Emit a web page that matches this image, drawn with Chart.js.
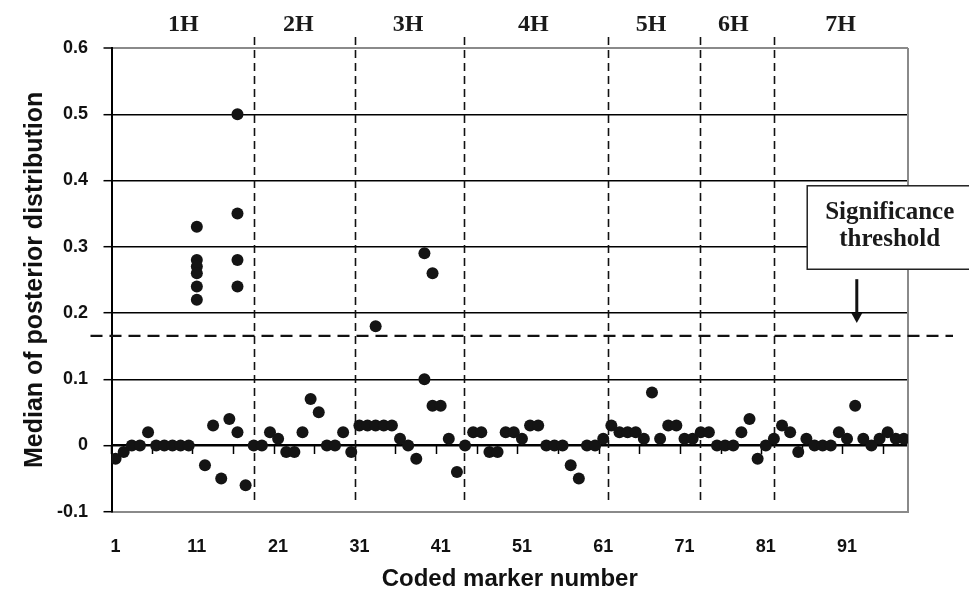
<!DOCTYPE html>
<html><head><meta charset="utf-8">
<script src="https://cdn.jsdelivr.net/npm/chart.js@4"></script>
<style>html,body{margin:0;padding:0;background:#fff}canvas{display:block}</style>
</head><body>
<canvas id="c" width="969" height="594" style="width:969px;height:594px"></canvas>
<script>
// ---- data ----
const markerNumber = [
  1,2,3,4,5,6,7,8,9,10,
  11,11,11,11,11,11,
  12,13,14,15,
  16,16,16,16,16,
  17,18,19,20,21,22,23,24,25,26,27,28,29,30,
  31,32,33,33,34,35,36,37,38,
  39,39,40,40,
  41,42,43,44,45,46,47,48,49,50,
  51,52,53,54,55,56,57,58,59,60,
  61,62,63,64,65,66,67,68,69,70,
  71,72,73,74,75,76,77,78,79,80,
  81,82,83,84,85,86,87,88,89,90,
  91,92,93,94,95,96,97,98
];
const medianValue = [
  -0.02,-0.01,0,0,0.02,0,0,0,0,0,
  0.33,0.28,0.27,0.26,0.24,0.22,
  -0.03,0.03,-0.05,0.04,
  0.5,0.35,0.28,0.24,0.02,
  -0.06,0,0,0.02,0.01,-0.01,-0.01,0.02,0.07,0.05,0,0,0.02,-0.01,
  0.03,0.03,0.03,0.18,0.03,0.03,0.01,0,-0.02,
  0.1,0.29,0.06,0.26,
  0.06,0.01,-0.04,0,0.02,0.02,-0.01,-0.01,0.02,0.02,
  0.01,0.03,0.03,0,0,0,-0.03,-0.05,0,0,
  0.01,0.03,0.02,0.02,0.02,0.01,0.08,0.01,0.03,0.03,
  0.01,0.01,0.02,0.02,0,0,0,0.02,0.04,-0.02,
  0,0.01,0.03,0.02,-0.01,0.01,0,0,0,0.02,
  0.01,0.06,0.01,0,0.01,0.02,0.01,0.01
];
const xTickLabels = [1,11,21,31,41,51,61,71,81,91];
const xTickMarks = [0.5,5.5,10.5,15.5,20.5,25.5,30.5,35.5,40.5,45.5,50.5,55.5,60.5,65.5,70.5,75.5,80.5,85.5,90.5,95.5];
const yTicks = [-0.1,0,0.1,0.2,0.3,0.4,0.5,0.6];
const chromosomeLabels = ['1H','2H','3H','4H','5H','6H','7H'];
const chromosomeLabelAt = [9.35,23.5,37.0,52.4,66.9,77.0,90.2];
const chromosomeBounds = [18.0,30.42,43.9,61.6,72.86,81.96];
const significanceThreshold = 0.1655;
const noteLines = ['Significance','threshold'];
const noteBox = {x1: 86.1, x2: 106.4, yTop: 0.392, yBottom: 0.266};
const noteArrow = {x: 92.2, yFrom: 0.251, yTo: 0.185};

const SANS = '"Liberation Sans", Arial, sans-serif';
const SERIF = '"Liberation Serif", "Times New Roman", serif';

const points = markerNumber.map((x, i) => ({x: x, y: medianValue[i]}));

const decorations = {
  id: 'decorations',
  beforeDatasetsDraw(chart) {
    const ctx = chart.ctx, xs = chart.scales.x, ys = chart.scales.y, a = chart.chartArea;
    ctx.save();
    ctx.strokeStyle = '#8a8a8a'; ctx.lineWidth = 2;
    ctx.beginPath(); ctx.moveTo(a.right, a.top); ctx.lineTo(a.right, a.bottom); ctx.stroke();
    ctx.strokeStyle = '#111'; ctx.lineWidth = 1.6; ctx.setLineDash([8, 5]);
    chromosomeBounds.forEach(b => {
      const px = Math.round(xs.getPixelForValue(b)) + 0.5;
      ctx.beginPath(); ctx.moveTo(px, a.top - 11); ctx.lineTo(px, a.bottom - 9); ctx.stroke();
    });
    const ty = ys.getPixelForValue(significanceThreshold);
    ctx.lineWidth = 2.2; ctx.setLineDash([12, 7]);
    ctx.beginPath(); ctx.moveTo(a.left - 21, ty); ctx.lineTo(a.right + 45, ty); ctx.stroke();
    ctx.restore();
  },
  afterDraw(chart) {
    const ctx = chart.ctx, xs = chart.scales.x, ys = chart.scales.y, a = chart.chartArea;
    ctx.save();
    ctx.fillStyle = '#1a1a1a';
    ctx.font = 'bold 24px ' + SERIF;
    ctx.textAlign = 'center'; ctx.textBaseline = 'alphabetic';
    chromosomeLabels.forEach((t, i) => ctx.fillText(t, xs.getPixelForValue(chromosomeLabelAt[i]), a.top - 17));
    const bx1 = xs.getPixelForValue(noteBox.x1), bx2 = xs.getPixelForValue(noteBox.x2);
    const by1 = ys.getPixelForValue(noteBox.yTop), by2 = ys.getPixelForValue(noteBox.yBottom);
    ctx.fillStyle = '#fff'; ctx.fillRect(bx1, by1, bx2 - bx1, by2 - by1);
    ctx.strokeStyle = '#222'; ctx.lineWidth = 1.5;
    ctx.strokeRect(bx1, by1, bx2 - bx1, by2 - by1);
    ctx.fillStyle = '#1a1a1a';
    ctx.font = 'bold 25px ' + SERIF;
    const cx = (bx1 + bx2) / 2;
    ctx.fillText(noteLines[0], cx, by1 + 33.5);
    ctx.fillText(noteLines[1], cx, by1 + 60.5);
    const ax = xs.getPixelForValue(noteArrow.x);
    const ay1 = ys.getPixelForValue(noteArrow.yFrom), ay2 = ys.getPixelForValue(noteArrow.yTo);
    ctx.strokeStyle = '#111'; ctx.lineWidth = 3;
    ctx.beginPath(); ctx.moveTo(ax, ay1); ctx.lineTo(ax, ay2 - 9); ctx.stroke();
    ctx.fillStyle = '#111';
    ctx.beginPath(); ctx.moveTo(ax - 5.5, ay2 - 10); ctx.lineTo(ax + 5.5, ay2 - 10); ctx.lineTo(ax, ay2); ctx.closePath(); ctx.fill();
    ctx.restore();
  }
};

const near = (a, b) => Math.abs(a - b) < 1e-6;

new Chart(document.getElementById('c'), {
  type: 'scatter',
  data: {
    datasets: [{
      data: points,
      xAxisID: 'x', yAxisID: 'y',
      pointRadius: 6, pointHoverRadius: 6,
      backgroundColor: '#141414', borderColor: '#141414', borderWidth: 0
    }]
  },
  options: {
    responsive: false, animation: false, devicePixelRatio: 1,
    layout: { padding: { top: 48, right: 61, left: 0, bottom: 0 } },
    plugins: { legend: { display: false }, tooltip: { enabled: false } },
    scales: {
      x: {
        type: 'linear', axis: 'x', position: 'bottom', min: 0.5, max: 98.5,
        afterBuildTicks: s => { s.ticks = xTickLabels.map(v => ({value: v})); },
        afterFit: s => { s.height = 82.3; },
        grid: { display: false },
        border: { display: true, color: '#8a8a8a', width: 2 },
        ticks: { autoSkip: false, maxRotation: 0, padding: 17, color: '#111',
                 font: { family: SANS, size: 18, weight: 'bold' }, callback: v => String(v) },
        title: { display: true, text: 'Coded marker number', color: '#111',
                 font: { family: SANS, size: 24, weight: 'bold' }, padding: { top: 0, bottom: 0 } }
      },
      x2: {
        type: 'linear', axis: 'x', position: { y: 0 }, min: 0.5, max: 98.5,
        afterBuildTicks: s => { s.ticks = xTickMarks.map(v => ({value: v})); },
        grid: { display: true, drawOnChartArea: false, drawTicks: true, tickLength: 8, tickColor: '#000', tickWidth: 1.5 },
        border: { display: true, color: '#000', width: 2 },
        ticks: { display: false }
      },
      y: {
        type: 'linear', position: 'left', min: -0.1, max: 0.6,
        afterBuildTicks: s => { s.ticks = yTicks.map(v => ({value: v})); },
        afterFit: s => { s.width = 111.5; },
        grid: {
          color: c => (near(c.tick.value, 0.6) || near(c.tick.value, -0.1)) ? '#8a8a8a' : '#000',
          lineWidth: c => near(c.tick.value, 0.6) ? 2 : 1.4,
          tickLength: 8, tickColor: '#000', tickWidth: 1.5
        },
        border: { display: true, color: '#000', width: 2 },
        ticks: { padding: 15.5, color: '#111', font: { family: SANS, size: 18, weight: 'bold' },
                 callback: v => { const r = Math.round(v * 10) / 10; return r === 0 ? '0' : r.toFixed(1); } },
        title: { display: true, text: 'Median of posterior distribution', color: '#111',
                 font: { family: SANS, size: 25, weight: 'bold' }, padding: { top: 20, bottom: 0 } }
      }
    }
  },
  plugins: [decorations]
});
</script>
</body></html>
